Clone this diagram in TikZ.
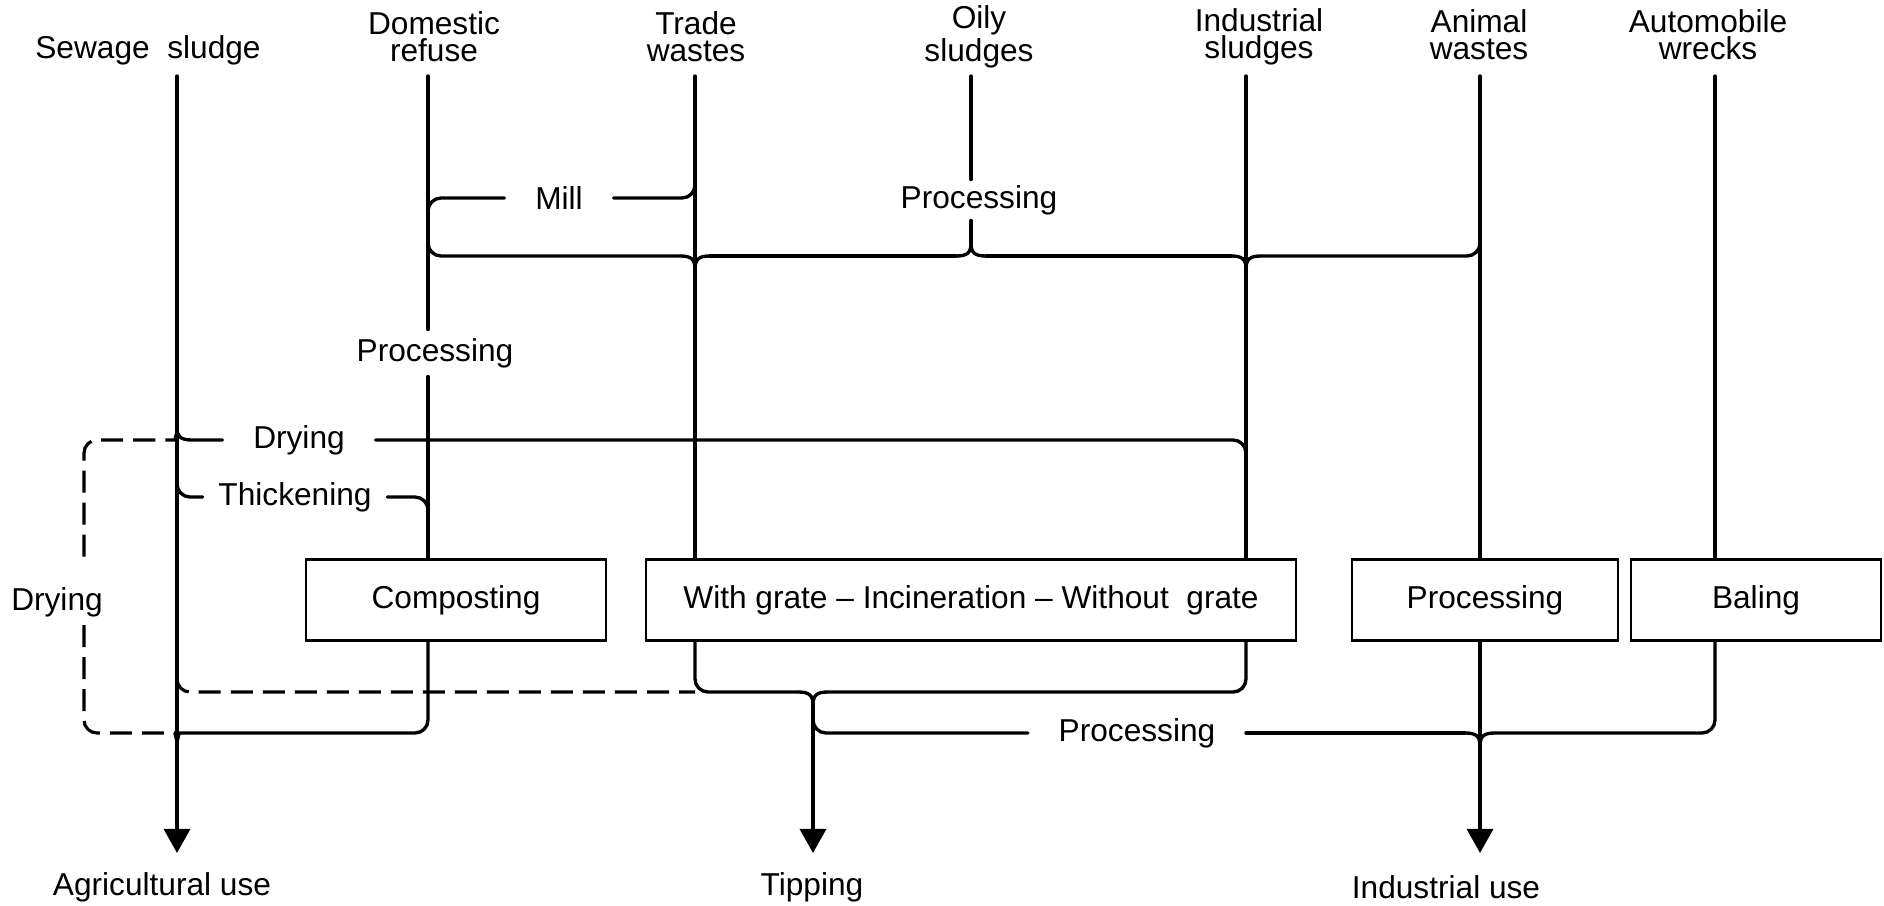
\documentclass[tikz,border=0pt]{standalone}
\usepackage{fontspec}
\setmainfont{Liberation Sans}
\usetikzlibrary{arrows.meta}

\begin{document}
\begin{tikzpicture}[x=0.01cm, y=-0.01cm,
    every node/.style={font=\fontsize{9}{7.7}\selectfont},
    flow/.style={line width=0.95pt, line cap=round},
    elbow/.style={rounded corners=0.13cm},
    dashflow/.style={line width=0.9pt, dash pattern=on 0.22cm off 0.1cm},
    outlet/.style={-{Triangle[length=0.24cm, width=0.26cm]}},
    box/.style={draw, line width=0.6pt, minimum height=0.81cm, inner sep=0pt},
    src/.style={align=center},
    tag/.style={inner xsep=0.3cm, inner ysep=0.08cm},
    tipdown/.pic={\draw[flow] (-15,0) .. controls (-4,0) and (0,3) .. (0,13)
                   .. controls (0,3) and (4,0) .. (15,0);},
    tipup/.pic={\draw[flow] (-15,0) .. controls (-4,0) and (0,-3) .. (0,-13)
                   .. controls (0,-3) and (4,0) .. (15,0);}
  ]
      \useasboundingbox (0,0) rectangle (1884,906);

      % sources
      \node[src] (sew)   at (148,50)  {Sewage~ sludge};
      \node[src] (dom)   at (434,37)  {Domestic\\refuse};
      \node[src] (trade) at (696,37)  {Trade\\wastes};
      \node[src] (oily)  at (979,37)  {Oily\\sludges};
      \node[src] (ind)   at (1259,37) {Industrial\\sludges};
      \node[src] (anim)  at (1479,35) {Animal\\wastes};
      \node[src] (auto)  at (1708,35) {Automobile\\wrecks};

      \coordinate (s0) at (177,76);
      \coordinate (d0) at (428,76);
      \coordinate (t0) at (695,76);
      \coordinate (o0) at (971,76);
      \coordinate (i0) at (1246,76);
      \coordinate (a0) at (1480,76);
      \coordinate (w0) at (1715,76);

      % treatment boxes
      \node[box, minimum width=3cm]    (compost) at (456,600)  {Composting};
      \node[box, minimum width=6.5cm]  (incin)   at (971,600)  {With grate -- Incineration -- Without~~grate};
      \node[box, minimum width=2.66cm] (procbox) at (1485,600) {Processing};
      \node[box, minimum width=2.5cm]  (baling)  at (1756,600) {Baling};

      % labels on the lines
      \node[tag] (mill)  at (559,198)  {Mill};
      \node[tag, inner ysep=0.05cm] (procA) at (979,200) {Processing};
      \node[tag] (procD) at (435,353)  {Processing};
      \node[tag] (dryA)  at (299,440)  {Drying};
      \node[tag, inner xsep=0.15cm] (thick) at (295,497) {Thickening};
      \node (dryB) at (57,602) {Drying};
      \node[tag] (procC) at (1137,733) {Processing};

      % outlets
      \coordinate (sA) at (177,853);
      \coordinate (pA) at (813,853);
      \coordinate (aA) at (1480,853);
      \node (agri)   at (162,887)  {Agricultural use};
      \node (tip)    at (812,887)  {Tipping};
      \node (induse) at (1446,887) {Industrial use};

      % vertical lines
      \draw[flow,outlet] (s0) -- (sA);
      \draw[flow] (d0) -- (d0 |- procD.north);
      \draw[flow] (d0 |- procD.south) -- (d0 |- compost.north);
      \draw[flow] (t0) -- (t0 |- incin.north);
      \draw[flow] (o0) -- (o0 |- procA.north);
      \draw[flow] (o0 |- procA.south) -- (971,243);
      \draw[flow] (i0) -- (i0 |- incin.north);
      \draw[flow] (a0) -- (a0 |- procbox.north);
      \draw[flow] (w0) -- (w0 |- baling.north);

      % mill
      \draw[flow,elbow] (mill.west) -| (428,212);
      \draw[flow,elbow] (mill.east) -| (695,180);

      % processing line
      \draw[flow,elbow] (428,230) |- (680,256);
      \pic at (695,256) {tipdown};
      \draw[flow] (710,256) -- (956,256);
      \pic at (971,256) {tipup};
      \draw[flow] (986,256) -- (1231,256);
      \pic at (1246,256) {tipdown};
      \draw[flow,elbow] (1261,256) -| (1480,236);

      % drying and thickening
      \draw[flow] (177,428) .. controls (177,436) and (180,440) .. (192,440) -- (dryA.west);
      \draw[flow,elbow] (dryA.east) -| (1246,458);
      \draw[flow,elbow] (177,478) |- (thick.west);
      \draw[flow,elbow] (thick.east) -| (428,520);

      % drying loop
      \draw[dashflow,elbow] (177,428) .. controls (177,436) and (174,440) .. (162,440) -| (84,560);
      \draw[dashflow,elbow] (84,625) |- (162,733) .. controls (174,733) and (177,737) .. (177,746);
      \draw[flow,elbow] (177,746) .. controls (177,737) and (180,733) .. (192,733) -| (d0 |- compost.south);
      \draw[dashflow,elbow] (177,676) |- (695,692);

      % incineration to tipping
      \draw[flow,elbow] (t0 |- incin.south) |- (798,692);
      \pic at (813,692) {tipdown};
      \draw[flow,elbow] (828,692) -| (i0 |- incin.south);
      \draw[flow,outlet] (813,705) -- (pA);

      % processing to industrial use
      \draw[flow,elbow] (813,712) |- (procC.west);
      \draw[flow] (procC.east) -- (1465,733);
      \pic at (1480,733) {tipdown};
      \draw[flow,elbow] (1495,733) -| (w0 |- baling.south);
      \draw[flow,outlet] (a0 |- procbox.south) -- (aA);
    \end{tikzpicture}
\end{document}
